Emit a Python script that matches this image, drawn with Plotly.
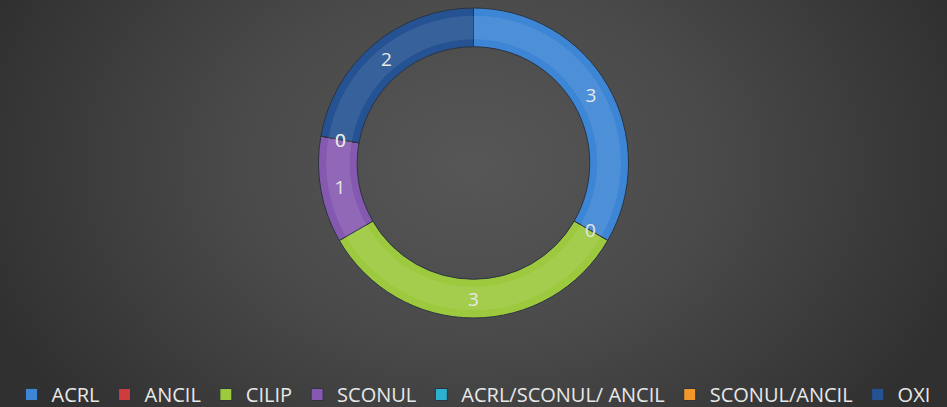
import base64
import math
import plotly.graph_objects as go

categories = ["ACRL", "ANCIL", "CILIP", "SCONUL", "ACRL/SCONUL/ ANCIL", "SCONUL/ANCIL", "OXI"]
counts = [3, 0, 3, 1, 0, 0, 2]
colors = ["#3d86d5", "#d03b3b", "#9cc93d", "#8559b0", "#2db1d0", "#f2982a", "#245292"]

W, H = 947, 407
CY = 163          # ring centre, px from top
RING_H = 310      # height of the pie domain, px
RING_MID = 135    # px from centre to the middle of the ring band

cy_paper = (H - CY) / H
half = RING_H / 2 / H

# dark radial backdrop
svg = f"""<svg xmlns='http://www.w3.org/2000/svg' width='{W}' height='{H}' viewBox='0 0 {W} {H}' preserveAspectRatio='none'>
<defs><radialGradient id='g' gradientUnits='userSpaceOnUse' cx='473' cy='165' r='520'
 gradientTransform='translate(473 165) scale(1 0.75) translate(-473 -165)'>
<stop offset='0' stop-color='#575757'/><stop offset='0.45' stop-color='#4a4a4a'/><stop offset='1' stop-color='#303030'/>
</radialGradient></defs><rect width='{W}' height='{H}' fill='url(#g)'/></svg>"""
bg_uri = "data:image/svg+xml;base64," + base64.b64encode(svg.encode()).decode()

label_font = dict(family="Open Sans, sans-serif", size=19, color="#e6e6e6")

fig = go.Figure()
fig.add_trace(go.Pie(
    labels=categories,
    values=counts,
    sort=False,
    direction="clockwise",
    rotation=0,
    hole=0.75,
    domain=dict(x=[0, 1], y=[cy_paper - half, cy_paper + half]),
    marker=dict(colors=colors, line=dict(color="#2b3440", width=1)),
    textinfo="value",
    textposition="inside",
    insidetextorientation="horizontal",
    textfont=label_font,
    showlegend=True,
))

# soft raised band along the middle of each segment
band = 0.95
fig.add_trace(go.Pie(
    labels=categories,
    values=counts,
    sort=False,
    direction="clockwise",
    rotation=0,
    hole=0.84,
    domain=dict(x=[0, 1], y=[cy_paper - half * band, cy_paper + half * band]),
    marker=dict(colors=["rgba(255,255,255,0.09)"] * len(counts), line=dict(width=0)),
    textinfo="none",
    hoverinfo="skip",
    showlegend=False,
))

# zero-valued slices have no arc, so their value labels sit on the slice boundary
total = sum(counts)
cum = 0
for name, v in zip(categories, counts):
    if v == 0:
        a = math.radians(360 * cum / total)
        fig.add_annotation(
            xref="paper", yref="paper",
            x=0.5 + RING_MID * math.sin(a) / W,
            y=cy_paper + RING_MID * math.cos(a) / H,
            text=str(v), showarrow=False, font=label_font,
        )
    cum += v

fig.update_layout(
    width=W, height=H,
    margin=dict(l=0, r=0, t=0, b=0, autoexpand=False),
    paper_bgcolor="#444444",
    images=[dict(source=bg_uri, xref="paper", yref="paper", x=0, y=1, sizex=1, sizey=1,
                 xanchor="left", yanchor="top", sizing="stretch", layer="below")],
    legend=dict(orientation="h", x=0.5, xanchor="center", y=-7 / H, yanchor="bottom",
                font=dict(family="Open Sans, sans-serif", size=20, color="#e8e8e8"),
                bgcolor="rgba(0,0,0,0)", itemwidth=30, traceorder="normal"),
)

fig.write_html("out.html")
